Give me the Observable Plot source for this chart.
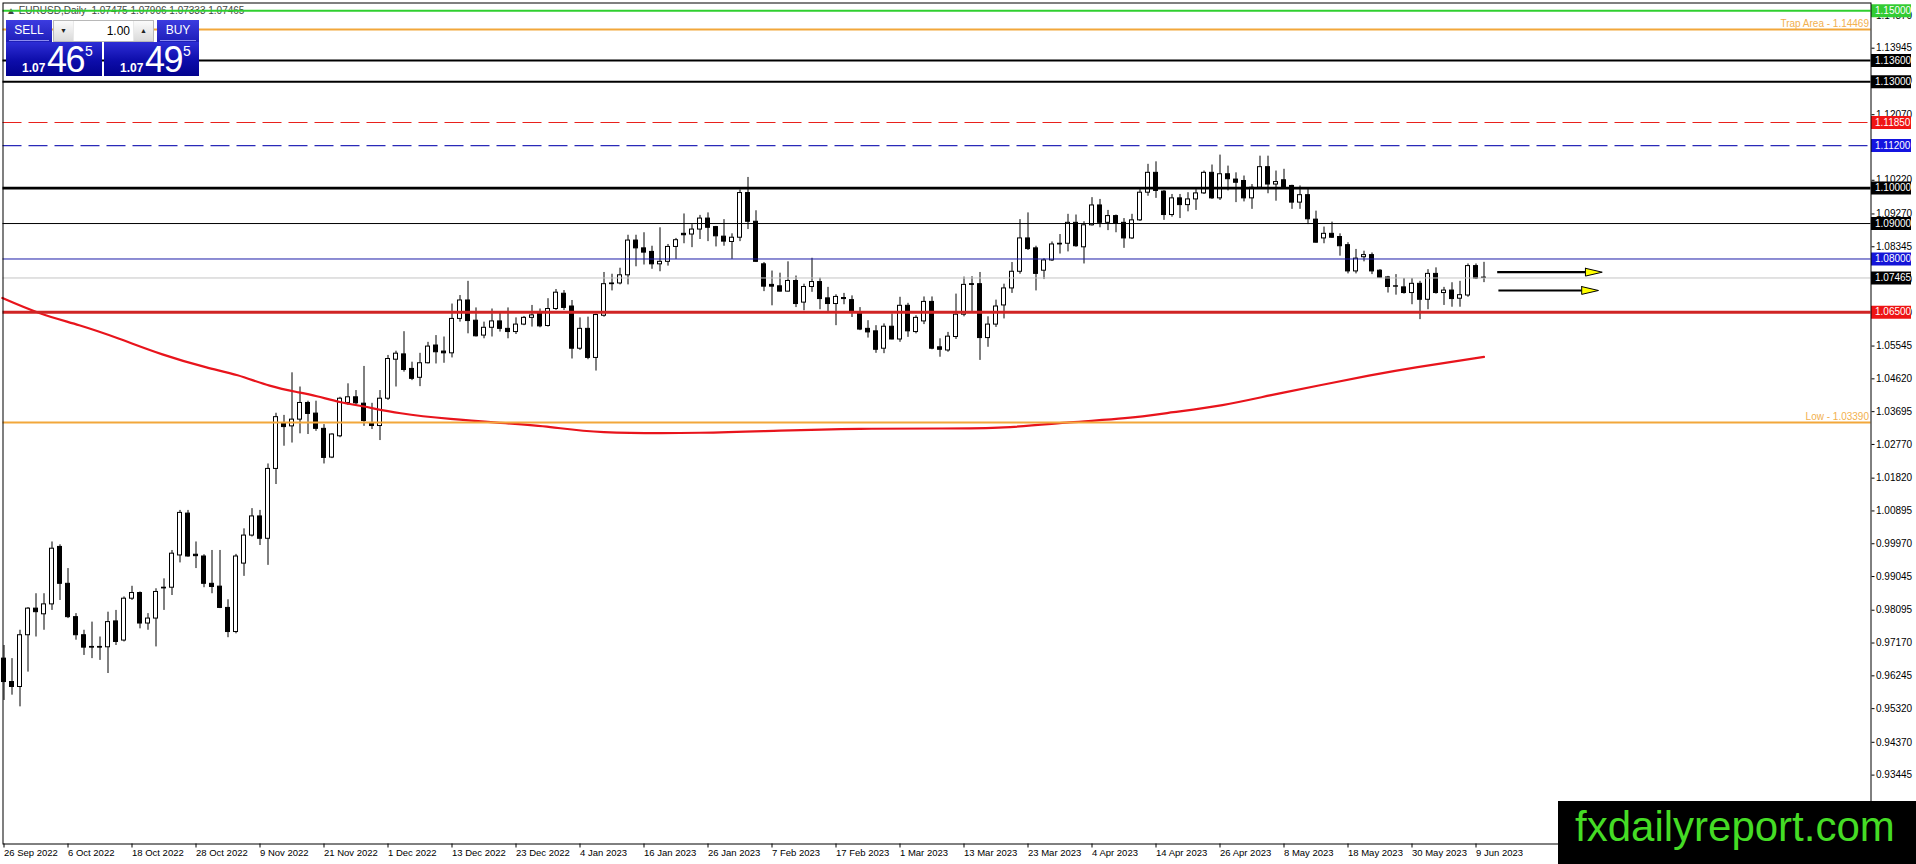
<!DOCTYPE html>
<html>
<head>
<meta charset="utf-8">
<script src="https://cdn.jsdelivr.net/npm/d3@7"></script>
<script src="https://cdn.jsdelivr.net/npm/@observablehq/plot@0.6"></script>
<style>
html,body{margin:0;padding:0;background:#fff;}
#wrap{position:relative;width:1916px;height:864px;overflow:hidden;background:#fff;font-family:"Liberation Sans",Arial,sans-serif;}
#hdr{position:absolute;left:6px;top:5px;font-size:10px;line-height:12px;color:#444;white-space:pre;z-index:0;}
#chart{position:absolute;left:0;top:0;z-index:1;}
#panel{position:absolute;left:0;top:0;z-index:2;}
.b{position:absolute;box-sizing:border-box;color:#fff;}
.hd{background:linear-gradient(#3c3ce0,#1e1eb8);font-size:12px;text-align:center;line-height:20px;overflow:hidden;}
.hd span{display:block;margin:0 3px;border-bottom:1px solid #8c8cf0;}
.px{background:linear-gradient(#2e2ed6,#0d0daa 55%,#02028e);}
.px span{position:absolute;white-space:nowrap;}
.sm{font-size:12px;font-weight:bold;line-height:12px;top:20px;}
.bg{font-size:36px;line-height:30px;letter-spacing:-1.5px;top:3px;}
.sp{font-size:14px;line-height:14px;top:2px;}
#spin{background:#e9e9e9;border:1px solid #b8b8b8;color:#000;overflow:hidden;}
#spin div{position:absolute;top:0;height:20px;line-height:20px;}
.btn{background:linear-gradient(#fbfbfb,#dadada);font-size:7px;text-align:center;color:#222;width:19px;}
.fld{background:#fff;font-size:12px;text-align:right;width:59px;left:20px;padding-right:3px;box-sizing:border-box;}
#logo{position:absolute;left:1558px;top:801px;width:358px;height:63px;background:#000;z-index:3;}
#logo span{position:absolute;left:17px;top:5px;font-size:42px;line-height:42px;color:#45dc25;white-space:nowrap;}
</style>
</head>
<body>
<div id="wrap">
  <div id="hdr"></div>
  <div id="chart"></div>
  <div id="panel"></div>
  <div id="logo"><span></span></div>
</div>
<script>
// ---------------- DATA ----------------
const symbolName = "EURUSD,Daily";
const bidPrice = 1.07465;
const askPrice = 1.07495;
const lotSize = 1.00;
const siteName = "fxdailyreport.com";

// Daily candles, index 0 = 26 Sep 2022 ... index 185 = 12 Jun 2023
const openP = [
0.9673,0.9607,0.9593,0.9739,0.9814,0.9798,0.9826,0.9988,0.9884,0.9790,
0.9739,0.9706,0.9706,0.9705,0.9778,0.9724,0.9842,0.9858,0.9772,0.9786,
0.9871,0.9873,0.9964,1.0082,0.9966,0.9961,0.9884,0.9876,0.9816,0.9748,
0.9941,1.0020,1.0074,1.0011,1.0208,1.0335,1.0328,1.0347,1.0394,1.0364,
1.0321,1.0240,1.0300,1.0394,1.0410,1.0392,1.0337,1.0329,1.0406,1.0516,
1.0531,1.0490,1.0465,1.0506,1.0556,1.0539,1.0534,1.0631,1.0683,1.0626,
1.0584,1.0606,1.0624,1.0603,1.0594,1.0615,1.0634,1.0650,1.0611,1.0659,
1.0702,1.0666,1.0547,1.0603,1.0521,1.0640,1.0731,1.0731,1.0754,1.0852,
1.0830,1.0820,1.0785,1.0792,1.0834,1.0871,1.0869,1.0883,1.0914,1.0890,
1.0863,1.0848,1.0860,1.0986,1.0905,1.0785,1.0727,1.0723,1.0708,1.0738,
1.0677,1.0721,1.0735,1.0689,1.0673,1.0690,1.0684,1.0649,1.0603,1.0596,
1.0547,1.0609,1.0573,1.0668,1.0594,1.0624,1.0679,1.0551,1.0542,1.0580,
1.0643,1.0729,1.0729,1.0577,1.0615,1.0669,1.0717,1.0764,1.0858,1.0830,
1.0767,1.0796,1.0841,1.0843,1.0902,1.0833,1.0895,1.0951,1.0902,1.0921,
1.0902,1.0858,1.0909,1.0987,1.1043,1.0990,1.0924,1.0971,1.0952,1.0968,
1.0985,1.1043,1.0971,1.1039,1.1024,1.1020,1.0971,1.1001,1.1059,1.1010,
1.1022,1.1006,1.0959,1.0980,1.0911,1.0858,1.0871,1.0862,1.0839,1.0765,
1.0805,1.0811,1.0767,1.0748,1.0723,1.0720,1.0704,1.0730,1.0685,1.0758,
1.0704,1.0711,1.0688,1.0697,1.0780,1.07475];
const highP = [
0.9710,0.9673,0.9753,0.9817,0.9856,0.9856,1.0002,0.9994,0.9927,0.9800,
0.9753,0.9776,0.9734,0.9804,0.9809,0.9847,0.9877,0.9861,0.9800,0.9870,
0.9898,0.9978,1.0091,1.0091,1.0002,0.9966,0.9978,0.9978,0.9839,0.9967,
1.0039,1.0096,1.0091,1.0222,1.0365,1.0359,1.0479,1.0439,1.0399,1.0399,
1.0333,1.0307,1.0410,1.0448,1.0429,1.0497,1.0393,1.0429,1.0528,1.0540,
1.0595,1.0509,1.0534,1.0565,1.0584,1.0580,1.0673,1.0697,1.0737,1.0662,
1.0622,1.0659,1.0647,1.0662,1.0634,1.0638,1.0669,1.0659,1.0688,1.0714,
1.0711,1.0683,1.0634,1.0636,1.0645,1.0762,1.0757,1.0774,1.0867,1.0867,
1.0874,1.0836,1.0888,1.0841,1.0858,1.0927,1.0897,1.0923,1.0930,1.0892,
1.0911,1.0871,1.0995,1.1030,1.0936,1.0790,1.0766,1.0760,1.0792,1.0752,
1.0729,1.0802,1.0746,1.0720,1.0699,1.0703,1.0696,1.0663,1.0626,1.0612,
1.0617,1.0645,1.0692,1.0675,1.0640,1.0693,1.0693,1.0575,1.0593,1.0701,
1.0749,1.0750,1.0762,1.0637,1.0684,1.0729,1.0790,1.0911,1.0930,1.0836,
1.0801,1.0848,1.0869,1.0926,1.0924,1.0905,1.0973,1.0968,1.0937,1.0924,
1.0914,1.0926,1.1001,1.1067,1.1074,1.0993,1.0982,1.0982,1.0987,1.0999,
1.1048,1.1065,1.1093,1.1062,1.1043,1.1034,1.1010,1.1090,1.1090,1.1048,
1.1053,1.1008,1.1006,1.0996,1.0935,1.0890,1.0904,1.0871,1.0846,1.0827,
1.0822,1.0817,1.0770,1.0751,1.0756,1.0745,1.0745,1.0737,1.0770,1.0775,
1.0720,1.0733,1.0737,1.0786,1.0786,1.07906];
const lowP = [
0.9555,0.9570,0.9537,0.9635,0.9734,0.9753,0.9809,0.9837,0.9786,0.9725,
0.9682,0.9673,0.9668,0.9631,0.9710,0.9720,0.9837,0.9757,0.9753,0.9706,
0.9809,0.9851,0.9943,0.9959,0.9927,0.9873,0.9856,0.9814,0.9732,0.9743,
0.9905,1.0016,0.9992,0.9936,1.0164,1.0272,1.0281,1.0307,1.0305,1.0314,
1.0222,1.0237,1.0296,1.0387,1.0387,1.0328,1.0319,1.0288,1.0401,1.0439,
1.0481,1.0457,1.0440,1.0504,1.0504,1.0506,1.0521,1.0622,1.0589,1.0580,
1.0575,1.0580,1.0594,1.0575,1.0587,1.0612,1.0608,1.0606,1.0608,1.0655,
1.0655,1.0518,1.0542,1.0516,1.0484,1.0636,1.0710,1.0727,1.0727,1.0778,
1.0783,1.0771,1.0764,1.0780,1.0799,1.0843,1.0832,1.0855,1.0849,1.0834,
1.0836,1.0799,1.0849,1.0883,1.0790,1.0708,1.0668,1.0707,1.0707,1.0663,
1.0654,1.0706,1.0657,1.0649,1.0612,1.0671,1.0635,1.0598,1.0577,1.0534,
1.0533,1.0572,1.0565,1.0579,1.0589,1.0615,1.0544,1.0523,1.0537,1.0573,
1.0637,1.0649,1.0514,1.0551,1.0607,1.0631,1.0703,1.0757,1.0824,1.0710,
1.0742,1.0793,1.0814,1.0820,1.0833,1.0786,1.0893,1.0888,1.0880,1.0874,
1.0830,1.0855,1.0906,1.0977,1.0971,1.0909,1.0918,1.0914,1.0933,1.0937,
1.0982,1.0968,1.0965,1.0992,1.0959,1.0961,1.0940,1.0996,1.0984,1.0963,
1.0999,1.0940,1.0940,1.0897,1.0845,1.0843,1.0858,1.0808,1.0758,1.0758,
1.0792,1.0756,1.0745,1.0704,1.0698,1.0701,1.0671,1.0629,1.0657,1.0701,
1.0669,1.0664,1.0664,1.0692,1.0742,1.07333];
const closeP = [
0.9607,0.9593,0.9739,0.9814,0.9804,0.9826,0.9983,0.9884,0.9790,0.9739,
0.9704,0.9704,0.9704,0.9776,0.9720,0.9842,0.9858,0.9772,0.9786,0.9861,
0.9873,0.9969,1.0084,0.9961,0.9962,0.9884,0.9875,0.9816,0.9748,0.9961,
1.0020,1.0074,1.0011,1.0208,1.0354,1.0326,1.0347,1.0394,1.0363,1.0321,
1.0239,1.0305,1.0406,1.0410,1.0393,1.0343,1.0329,1.0406,1.0518,1.0533,
1.0487,1.0462,1.0506,1.0553,1.0537,1.0534,1.0631,1.0683,1.0625,1.0582,
1.0606,1.0624,1.0603,1.0594,1.0615,1.0634,1.0641,1.0610,1.0659,1.0705,
1.0662,1.0547,1.0603,1.0521,1.0642,1.0729,1.0729,1.0754,1.0852,1.0830,
1.0818,1.0785,1.0792,1.0834,1.0853,1.0867,1.0883,1.0914,1.0888,1.0864,
1.0849,1.0860,1.0986,1.0905,1.0792,1.0722,1.0722,1.0708,1.0738,1.0673,
1.0721,1.0735,1.0687,1.0673,1.0693,1.0687,1.0649,1.0601,1.0593,1.0544,
1.0609,1.0573,1.0668,1.0596,1.0634,1.0679,1.0547,1.0544,1.0581,1.0643,
1.0727,1.0727,1.0577,1.0615,1.0666,1.0717,1.0764,1.0858,1.0828,1.0758,
1.0796,1.0841,1.0843,1.0902,1.0836,1.0895,1.0951,1.0902,1.0921,1.0899,
1.0858,1.0909,1.0987,1.1043,1.0992,1.0924,1.0971,1.0952,1.0968,1.0985,
1.1043,1.0971,1.1039,1.1025,1.1015,1.0971,1.1001,1.1059,1.1010,1.1017,
1.1001,1.0959,1.0980,1.0912,1.0846,1.0871,1.0860,1.0836,1.0765,1.0801,
1.0811,1.0765,1.0747,1.0721,1.0722,1.0704,1.0730,1.0685,1.0758,1.0704,
1.0711,1.0687,1.0698,1.0780,1.0745,1.07465];

// Moving average (red curve) read at bar positions
const maIdx = [-0.2,4.5,9.4,14.4,19.8,25.2,29.2,33.2,36.6,39.1,42.1,45,49.6,55.8,62,68.3,75,87,97,107,117,125,133.2,140.1,146.2,152.3,158.4,164.5,170.6,176.7,185];
const maVal = [1.0690,1.0647,1.0613,1.0575,1.0531,1.0495,1.0472,1.0443,1.0425,1.0413,1.0396,1.0384,1.0365,1.0349,1.0338,1.0326,1.0312,1.0310,1.0316,1.0321,1.0322,1.0325,1.0339,1.0351,1.0368,1.0388,1.0416,1.0444,1.0471,1.0495,1.0524];

// Horizontal levels
const levelPrices = [1.15, 1.14469, 1.136, 1.13, 1.1185, 1.112, 1.10, 1.09, 1.08, 1.07465, 1.065, 1.0339];
const tagPrices = [1.15, 1.136, 1.13, 1.1185, 1.112, 1.10, 1.09, 1.08, 1.07465, 1.065];
const noteTexts = ["Trap Area - 1.14469", "Low - 1.03390"];
const notePrices = [1.14469, 1.0339];

// Arrows (bar index / price)
const arrowStart = [186.65, 186.8];
const arrowTip = [199.78, 199.31];
const arrowPrice = [1.07628, 1.07112];

// Axis ticks
const yTicks = [1.14870,1.13945,1.13020,1.12070,1.11145,1.10220,1.09270,1.08345,1.07420,1.06470,1.05545,1.04620,1.03695,1.02770,1.01820,1.00895,0.99970,0.99045,0.98095,0.97170,0.96245,0.95320,0.94370,0.93445];
const xTickIdx = [0,8,16,24,32,40,48,56,64,72,80,88,96,104,112,120,128,136,144,152,160,168,176,184];
const xTickLabels = ["26 Sep 2022","6 Oct 2022","18 Oct 2022","28 Oct 2022","9 Nov 2022","21 Nov 2022","1 Dec 2022","13 Dec 2022","23 Dec 2022","4 Jan 2023","16 Jan 2023","26 Jan 2023","7 Feb 2023","17 Feb 2023","1 Mar 2023","13 Mar 2023","23 Mar 2023","4 Apr 2023","14 Apr 2023","26 Apr 2023","8 May 2023","18 May 2023","30 May 2023","9 Jun 2023"];

// ---------------- STYLES ----------------
const levelStyle = [
  {stroke:"#2fcf2f", w:2},
  {stroke:"#f2a73b", w:2},
  {stroke:"#000", w:2},
  {stroke:"#000", w:2},
  {stroke:"#e8211c", w:1.2, dash:"19,7"},
  {stroke:"#2a2ab8", w:1.2, dash:"19,7"},
  {stroke:"#000", w:2.6},
  {stroke:"#000", w:1},
  {stroke:"#1c1ca8", w:1},
  {stroke:"#c4c4c4", w:1},
  {stroke:"#d02424", w:3},
  {stroke:"#f2a73b", w:2}
];
const tagBg = ["#33cc33","#000","#000","#f01414","#1414e0","#000","#000","#1414d8","#000","#ee1414"];

// ---------------- BUILD ----------------
const candles = openP.map((o, i) => ({i, o, h: highP[i], l: lowP[i], c: closeP[i]}));
const ma = maIdx.map((x, k) => ({x, v: maVal[k]}));
const tags = tagPrices.map((p, k) => ({p, bg: tagBg[k]}));
const notes = noteTexts.map((t, k) => ({t, p: notePrices[k]}));
const headLen = 2.1, headHalf = 0.0011;
const arrows = arrowStart.map((s, k) => ({s, b: arrowTip[k] - headLen, t: arrowTip[k], p: arrowPrice[k]}));
const tri = arrows.flatMap((a, k) => [
  {id:k, x:a.b, y:a.p + headHalf},
  {id:k, x:a.t, y:a.p},
  {id:k, x:a.b, y:a.p - headHalf},
  {id:k, x:a.b, y:a.p + headHalf}
]);
const xLab = new Map(xTickIdx.map((d, k) => [d, xTickLabels[k]]));

const W = 1916, H = 864;
const mL = 2.5, mR = 45.5, mT = 2.5, mB = 20.5;
const barPx = 8, firstBarPx = 3.5;
const xDom = [(mL - firstBarPx) / barPx, (W - mR - firstBarPx) / barPx];
const yDom = [0.915025, 1.152194];

const marks = [
  Plot.ruleX(candles, {x:"i", y1:"l", y2:"h", stroke:"#000", strokeWidth:1}),
  Plot.rect(candles, {x1: d => d.i - 0.25, x2: d => d.i + 0.25, y1:"o", y2:"c",
    fill: d => d.c >= d.o ? "#fff" : "#000", stroke:"#000", strokeWidth:1}),
  Plot.line(ma, {x:"x", y:"v", stroke:"#e8141c", strokeWidth:2.2, curve:"natural"}),
  ...levelPrices.map((p, k) => Plot.ruleY([p], {stroke: levelStyle[k].stroke, strokeWidth: levelStyle[k].w, strokeDasharray: levelStyle[k].dash})),
  Plot.link(arrows, {x1:"s", x2:"b", y1:"p", y2:"p", stroke:"#000", strokeWidth:2.2}),
  Plot.line(tri, {x:"x", y:"y", z:"id", fill:"#ffff00", stroke:"#000", strokeWidth:1}),
  Plot.axisY(yTicks, {anchor:"right", tickSize:3, tickPadding:2, tickFormat: d => d.toFixed(5), fontSize:10, label:null}),
  Plot.ruleY(tags, {y:"p", stroke:"bg", strokeWidth:13, insetLeft: W - mR - mL + 0.5, insetRight: -40.5}),
  Plot.text(tags, {y:"p", text: d => d.p.toFixed(5), frameAnchor:"right", dx:4, textAnchor:"start", fill:"#fff", fontSize:10}),
  Plot.text(notes, {y:"p", text:"t", frameAnchor:"right", textAnchor:"end", dx:-2, dy:-6, fill:"#f2b04e", fontSize:10}),
  Plot.axisX(xTickIdx, {anchor:"bottom", tickSize:4, tickPadding:1, tickFormat: d => xLab.get(d), textAnchor:"start", fontSize:9.5, label:null}),
  Plot.frame({stroke:"#000", strokeWidth:1})
];

const chart = Plot.plot({
  width: W, height: H,
  marginLeft: mL, marginRight: mR, marginTop: mT, marginBottom: mB,
  x: {type:"linear", domain: xDom},
  y: {type:"linear", domain: yDom},
  color: {type:"identity"},
  style: {background:"transparent", fontFamily:"Liberation Sans, Arial, sans-serif", fontSize:"10px", color:"#000", overflow:"visible"},
  marks
});
document.getElementById("chart").appendChild(chart);

// header line (symbol + OHLC of last bar)
const last = candles[candles.length - 1];
document.getElementById("hdr").textContent =
  "\u25B2 " + symbolName + "  " + [last.o, last.h, last.l, last.c].map(v => v.toFixed(5)).join(" ");

// one-click trading panel
function parts(v){ const s = v.toFixed(5); return [s.slice(0,4), s.slice(4,6), s.slice(6)]; }
const [bs, bb, bp] = parts(bidPrice);
const [as, ab, ap] = parts(askPrice);
document.getElementById("panel").innerHTML = `
  <div class="b hd" style="left:6px;top:20px;width:46px;height:22px"><span>SELL</span></div>
  <div class="b" id="spin" style="left:53px;top:20px;width:101px;height:22px">
    <div class="btn" style="left:0">\u25BC</div>
    <div class="fld">${lotSize.toFixed(2)}</div>
    <div class="btn" style="left:80px">\u25B2</div>
  </div>
  <div class="b hd" style="left:157px;top:20px;width:42px;height:22px"><span>BUY</span></div>
  <div class="b px" style="left:6px;top:42px;width:96px;height:34px">
    <span class="sm" style="left:16px">${bs}</span><span class="bg" style="left:41px">${bb}</span><span class="sp" style="left:79px">${bp}</span>
  </div>
  <div class="b px" style="left:104px;top:42px;width:95px;height:34px">
    <span class="sm" style="left:16px">${as}</span><span class="bg" style="left:41px">${ab}</span><span class="sp" style="left:79px">${ap}</span>
  </div>`;
document.querySelector("#logo span").textContent = siteName;
</script>
</body>
</html>
